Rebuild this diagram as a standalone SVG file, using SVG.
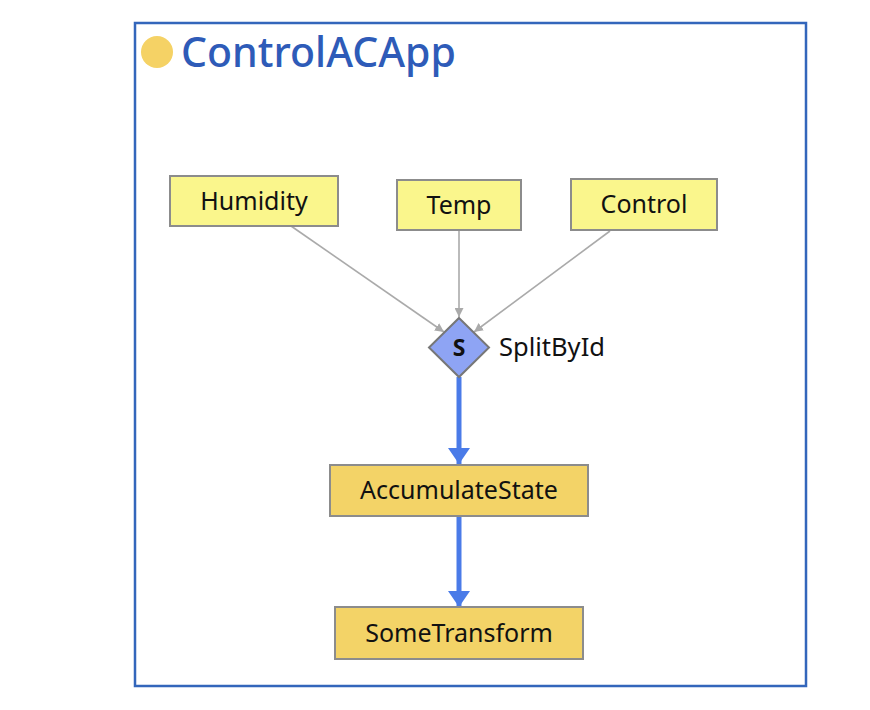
<svg xmlns="http://www.w3.org/2000/svg" width="870" height="710" viewBox="0 0 870 710">
<defs>
<style>
.lbl{font-family:"Noto Sans","Open Sans",sans-serif;font-size:25px;fill:#111;text-anchor:middle}
.src{fill:#faf68c;stroke:#8c8c8c;stroke-width:2}
.op{fill:#f3d367;stroke:#8c8c8c;stroke-width:2}
.thin{stroke:#aaaaaa;stroke-width:1.6;fill:none}
.thick{stroke:#4a7be8;stroke-width:5;fill:none}
</style>
<marker id="ga" viewBox="0 0 10 10" refX="10" refY="5" markerWidth="9" markerHeight="9" markerUnits="userSpaceOnUse" orient="auto"><path d="M0,0 L10,5 L0,10 z" fill="#aaaaaa"/></marker>
<marker id="ba" viewBox="0 0 10 10" refX="10" refY="5" markerWidth="16" markerHeight="22" markerUnits="userSpaceOnUse" orient="auto" preserveAspectRatio="none"><path d="M0,0 L10,5 L0,10 z" fill="#4a7be8"/></marker>
</defs>
<rect width="870" height="710" fill="#ffffff"/>
<g id="app">
<rect x="135" y="23" width="671" height="663" fill="none" stroke="#3366bb" stroke-width="2.5"/>
<circle cx="157" cy="52" r="16" fill="#f5d265"/>
<text x="181" y="67" font-family="'Noto Sans','Open Sans',sans-serif" font-size="41" font-weight="500" fill="#2e5bb8">ControlACApp</text>
</g>
<g id="connectors">
<line class="thin" x1="291" y1="226" x2="444" y2="332" marker-end="url(#ga)"/>
<line class="thin" x1="459" y1="230" x2="459" y2="317" marker-end="url(#ga)"/>
<line class="thin" x1="610" y1="231" x2="474" y2="332" marker-end="url(#ga)"/>
<line class="thick" x1="459" y1="377" x2="459" y2="464" marker-end="url(#ba)"/>
<line class="thick" x1="459" y1="516" x2="459" y2="607" marker-end="url(#ba)"/>
</g>
<g id="Humidity">
<rect class="src" x="170" y="176" width="168" height="50"/>
<text class="lbl" x="254" y="210">Humidity</text>
</g>
<g id="Temp">
<rect class="src" x="397" y="180" width="124" height="50"/>
<text class="lbl" x="459" y="214">Temp</text>
</g>
<g id="Control">
<rect class="src" x="571" y="179" width="146" height="51"/>
<text class="lbl" x="644" y="213">Control</text>
</g>
<g id="SplitById">
<path d="M459,318 L489,347.5 L459,377 L429,347.5 z" fill="#8ea4f4" stroke="#777777" stroke-width="2"/>
<text x="459" y="356" font-family="'Noto Sans','Open Sans',sans-serif" font-size="23" font-weight="bold" fill="#111" text-anchor="middle">S</text>
<text x="499" y="356" font-family="'Noto Sans','Open Sans',sans-serif" font-size="25.5" fill="#111">SplitById</text>
</g>
<g id="AccumulateState">
<rect class="op" x="330" y="465" width="258" height="51"/>
<text class="lbl" x="459" y="499">AccumulateState</text>
</g>
<g id="SomeTransform">
<rect class="op" x="335" y="607" width="248" height="52"/>
<text class="lbl" x="459" y="642">SomeTransform</text>
</g>
</svg>
